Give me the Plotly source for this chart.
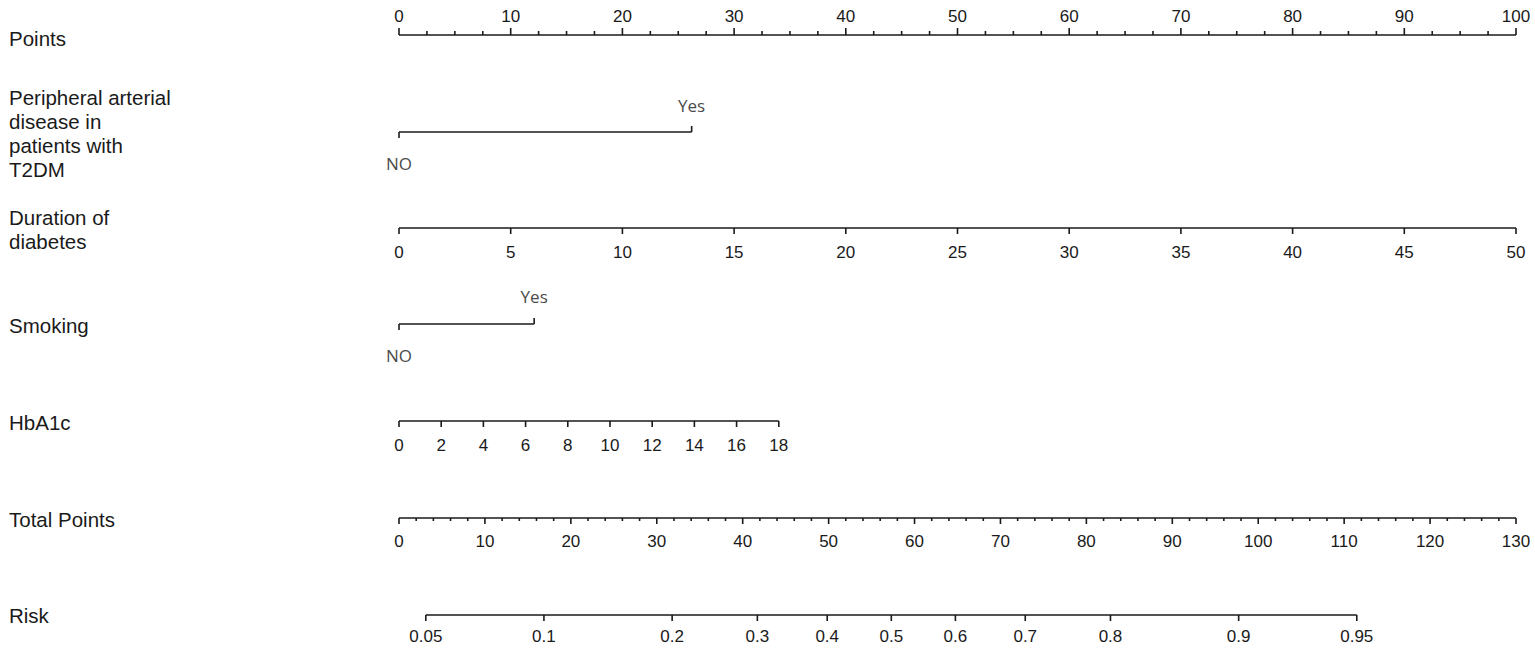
import numpy as np
import plotly.graph_objects as go

# ---------------- data ----------------
row_labels = [["Points"],
              ["Peripheral arterial", "disease in", "patients with", "T2DM"],
              ["Duration of", "diabetes"],
              ["Smoking"], ["HbA1c"], ["Total Points"], ["Risk"]]

points_ticks = list(range(0, 101, 10))
points_minor = [v / 2 for v in range(0, 201, 5)]  # every 2.5

pad_levels = ["NO", "Yes"]
pad_points = [0, 26.2]

duration_ticks = list(range(0, 51, 5))
duration_pts_per_unit = 2.0

smoking_levels = ["NO", "Yes"]
smoking_points = [0, 12.1]

hba1c_ticks = list(range(0, 19, 2))
hba1c_pts_per_unit = 34.0 / 18

total_ticks = list(range(0, 131, 10))
total_minor = list(range(0, 131, 2))
total_max = 130

risk_ticks = [0.05, 0.1, 0.2, 0.3, 0.4, 0.5, 0.6, 0.7, 0.8, 0.9, 0.95]
risk_intercept = -3.114   # linear predictor = intercept + slope * total points
risk_slope = 0.05435

# ---------------- layout constants ----------------
W, H = 1535, 657
X0, X100 = 399, 1516
ppp = (X100 - X0) / 100.0
LINE = "#1a1a1a"
TXT = "#1a1a1a"
LEVEL_COL = "#4a4a4a"
TICK_FONT = 17

fig = go.Figure()


def seg_trace(xs_list, ys_list, width=1.6):
    xs, ys = [], []
    for xx, yy in zip(xs_list, ys_list):
        xs += list(xx) + [None]
        ys += list(yy) + [None]
    fig.add_trace(go.Scatter(x=xs, y=ys, mode="lines", line=dict(color=LINE, width=width),
                             hoverinfo="skip", showlegend=False))


def text_trace(xs, ys, texts, size=TICK_FONT, color=TXT, family="Liberation Sans, Arial, sans-serif"):
    fig.add_trace(go.Scatter(x=xs, y=ys, mode="text", text=texts,
                             textposition="middle center",
                             textfont=dict(size=size, color=color, family=family),
                             hoverinfo="skip", showlegend=False, cliponaxis=False))


def axis_row(pts, labels, y_line, y_lab, major_len=6, up=False, minor_pts=None, minor_len=3):
    d = -1 if up else 1
    segs_x = [[pts[0], pts[-1]]]
    segs_y = [[y_line, y_line]]
    for p in pts:
        segs_x.append([p, p]); segs_y.append([y_line, y_line + d * major_len])
    if minor_pts is not None:
        for p in minor_pts:
            segs_x.append([p, p]); segs_y.append([y_line, y_line + d * minor_len])
    seg_trace(segs_x, segs_y)
    text_trace(pts, [y_lab] * len(pts), [str(l) for l in labels])


def level_row(pts, labels, y_line, y_low, y_high):
    seg_trace([[pts[0], pts[-1]], [pts[0], pts[0]], [pts[-1], pts[-1]]],
              [[y_line, y_line], [y_line, y_line + 6], [y_line, y_line - 6]])
    text_trace([pts[0], pts[-1]], [y_low, y_high], labels, size=17, color=LEVEL_COL,
               family="Open Sans, Noto Sans, sans-serif")


# Points
axis_row(points_ticks, points_ticks, 35, 18, major_len=7, up=True,
         minor_pts=[m for m in points_minor if m not in points_ticks], minor_len=4)

# PAD
level_row(pad_points, pad_levels, 132, 166, 108)

# Duration
axis_row([v * duration_pts_per_unit for v in duration_ticks], duration_ticks, 228, 254)

# Smoking
level_row(smoking_points, smoking_levels, 324, 358, 299)

# HbA1c
axis_row([v * hba1c_pts_per_unit for v in hba1c_ticks], hba1c_ticks, 421, 447)

# Total points
tp = [v * 100 / total_max for v in total_ticks]
tm = [v * 100 / total_max for v in total_minor if v not in total_ticks]
axis_row(tp, total_ticks, 518, 543, minor_pts=tm, minor_len=3)

# Risk
rk = np.array(risk_ticks)
risk_total = (np.log(rk / (1 - rk)) - risk_intercept) / risk_slope
axis_row(list(risk_total * 100 / total_max), risk_ticks, 615, 638)

# Row labels (one annotation per text line, 24 px line pitch)
label_top = [38, 97, 217, 325, 422, 519, 615]
for lines, y0 in zip(row_labels, label_top):
    for i, ln in enumerate(lines):
        fig.add_annotation(x=(7 - X0) / ppp, y=y0 + 24 * i, xref="x", yref="y", text=ln,
                           showarrow=False, xanchor="left", yanchor="middle", align="left",
                           font=dict(size=20.5, color=TXT, family="Liberation Sans, Arial, sans-serif"))

# pixel-aligned axes
fig.update_layout(
    width=W, height=H, margin=dict(l=0, r=0, t=0, b=0),
    paper_bgcolor="white", plot_bgcolor="white",
    xaxis=dict(range=[-X0 / ppp, (W - X0) / ppp], visible=False, fixedrange=True),
    yaxis=dict(range=[H, 0], visible=False, fixedrange=True),
    showlegend=False,
)

fig.write_html("out.html", config={"displayModeBar": False},
               post_script="document.body.style.margin='0';document.body.style.overflow='hidden';")
